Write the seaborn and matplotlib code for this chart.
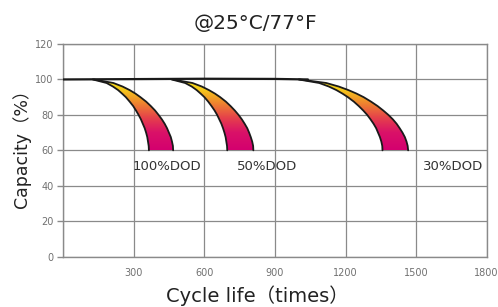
import numpy as np
import pandas as pd
import seaborn as sns
import matplotlib
matplotlib.use("Agg")
import matplotlib.pyplot as plt
from matplotlib.colors import LinearSegmentedColormap

# ---- data ----
levels = [100, 98, 96, 94, 92, 90, 87.5, 85, 82.5, 80, 77.5, 75, 72.5, 70, 67.5, 65, 62.5, 60]  # capacity (%)
inner_100 = [125, 184, 211, 233, 250, 266, 282, 297, 309, 320, 330, 338, 346, 352, 357, 360, 363, 364]
outer_100 = [130, 213, 252, 282, 307, 328, 352, 372, 390, 405, 419, 431, 441, 449, 457, 462, 466, 467]
inner_50 = [460, 518, 546, 567, 584, 600, 616, 630, 643, 654, 663, 672, 679, 685, 690, 693, 696, 697]
outer_50 = [465, 549, 589, 619, 645, 667, 691, 711, 729, 745, 759, 771, 782, 790, 797, 803, 807, 808]
inner_30 = [1000, 1088, 1129, 1161, 1187, 1210, 1235, 1256, 1275, 1292, 1306, 1319, 1330, 1338, 1346, 1352, 1356, 1357]
outer_30 = [1005, 1118, 1171, 1212, 1247, 1277, 1308, 1336, 1360, 1382, 1401, 1417, 1430, 1442, 1452, 1459, 1464, 1466]

flat_x = [0, 300, 600, 900, 1040]
flat_y = [100, 100.2, 100.4, 100.3, 100]

dod_labels = ["100%DOD", "50%DOD", "30%DOD"]
dod_label_x = [296, 738, 1528]
dod_label_y = 48.8

x_ticks = [0, 300, 600, 900, 1200, 1500, 1800]
x_tick_labels = ["", "300", "600", "900", "1200", "1500", "1800"]
y_ticks = [0, 20, 40, 60, 80, 100, 120]

title = "@25°C/77°F"
xlabel = "Cycle life（times）"
ylabel = "Capacity（%）"

# ---- style ----
sns.set_theme(style="white")
plt.rcParams["font.family"] = ["DejaVu Sans", "Noto Sans CJK SC"]

fig = plt.figure(figsize=(4.98, 3.07), dpi=100)
ax = fig.add_axes([63.3 / 498, 1 - 256.7 / 307, (486.7 - 63.3) / 498, (256.7 - 44) / 307])

cmap = LinearSegmentedColormap.from_list(
    "dod", [(0.0, "#d4006f"), (0.25, "#da1268"), (0.45, "#e5404c"),
            (0.65, "#ee8030"), (0.85, "#f5c81a"), (1.0, "#f8e81a")])
grad = np.linspace(0, 1, 256).reshape(-1, 1)

bands = [(inner_100, outer_100), (inner_50, outer_50), (inner_30, outer_30)]
for inner, outer in bands:
    px = list(inner) + list(outer)[::-1]
    py = list(levels) + list(levels)[::-1]
    patch = ax.fill(px, py, facecolor="none", edgecolor="none", zorder=2)[0]
    im = ax.imshow(grad, extent=[min(px), max(px), 60, 100], origin="lower",
                   cmap=cmap, aspect="auto", zorder=2, interpolation="bilinear")
    im.set_clip_path(patch)
    for edge in (inner, outer):
        df = pd.DataFrame({"x": edge, "y": levels})
        sns.lineplot(data=df, x="x", y="y", sort=False, estimator=None,
                     color="#1a1a1a", lw=1.3, ax=ax, zorder=3)

sns.lineplot(x=flat_x, y=flat_y, sort=False, estimator=None,
             color="#1a1a1a", lw=1.6, ax=ax, zorder=3)

for lab, lx in zip(dod_labels, dod_label_x):
    ax.text(lx, dod_label_y, lab, fontsize=9.5, color="#333333",
            ha="left", va="baseline", zorder=4)

ax.set_xlim(0, 1800)
ax.set_ylim(0, 120)
ax.set_xticks(x_ticks)
ax.set_xticklabels(x_tick_labels)
ax.set_yticks(y_ticks)
ax.set_xlabel("")
ax.set_ylabel("")
ax.grid(True, color="#8a8a8a", lw=0.9)
ax.set_axisbelow(True)
for sp in ax.spines.values():
    sp.set_visible(True)
    sp.set_color("#8a8a8a")
    sp.set_linewidth(1.0)
ax.tick_params(axis="y", length=4, color="#8a8a8a", width=1, pad=3,
               labelsize=7, labelcolor="#707070", left=True)
ax.tick_params(axis="x", length=0, pad=8, labelsize=7, labelcolor="#707070")

fig.text(255 / 498, 1 - 29 / 307, title, fontsize=14.5, color="#222222",
         ha="center", va="baseline")
fig.text(257 / 498, 1 - 302 / 307, xlabel, fontsize=14, color="#222222",
         ha="center", va="baseline")
fig.text(22 / 498, 1 - 144 / 307, ylabel, fontsize=12.5, color="#222222",
         ha="center", va="center", rotation=90)

fig.savefig("out.png", dpi=100)
